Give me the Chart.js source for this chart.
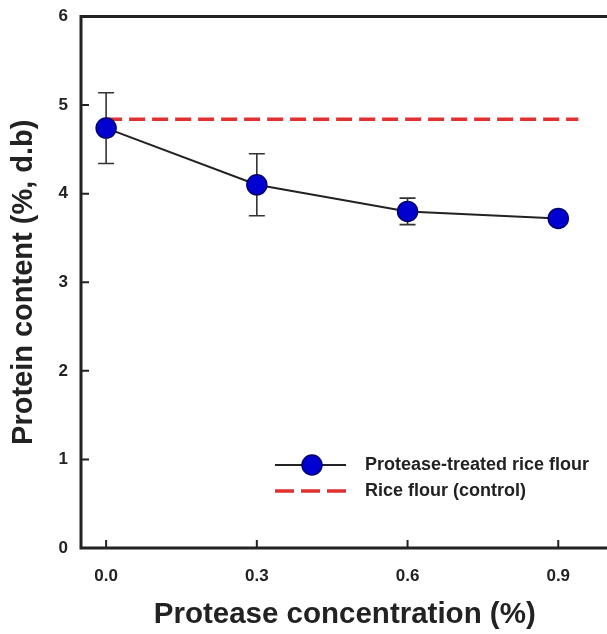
<!DOCTYPE html>
<html><head><meta charset="utf-8">
<script src="https://cdn.jsdelivr.net/npm/chart.js@4.4.0/dist/chart.umd.min.js"></script>
<style>
html,body{margin:0;padding:0;background:#fff;overflow:hidden;}
#wrap{width:607px;height:634px;overflow:hidden;position:relative;}
#c{position:absolute;left:0;top:0;}
</style></head>
<body><div id="wrap"><canvas id="c" width="620" height="634"></canvas></div>
<script>
const concentrations = [0, 0.3, 0.6, 0.9];
const proteinContent = [4.74, 4.10, 3.80, 3.72];
const proteinError = [0.40, 0.35, 0.15, 0.02];
const controlX = [0, 0.94];
const controlValue = [4.84, 4.84];
const xTicks = [0, 0.3, 0.6, 0.9];
const yTicks = [0, 1, 2, 3, 4, 5, 6];
const seriesLabels = ['Protease-treated rice flour', 'Rice flour (control)'];

const FONT = 'Liberation Sans, Arial, sans-serif';
const AX = '#222';

const extras = {
  id: 'extras',
  beforeDatasetsDraw(chart) {
    const ctx = chart.ctx, xs = chart.scales.x, ys = chart.scales.y;
    ctx.save();
    ctx.strokeStyle = '#333'; ctx.lineWidth = 1.6;
    concentrations.forEach((c, i) => {
      const px = xs.getPixelForValue(c);
      const top = ys.getPixelForValue(proteinContent[i] + proteinError[i]);
      const bot = ys.getPixelForValue(proteinContent[i] - proteinError[i]);
      ctx.beginPath();
      ctx.moveTo(px, top); ctx.lineTo(px, bot);
      ctx.moveTo(px - 8, top); ctx.lineTo(px + 8, top);
      ctx.moveTo(px - 8, bot); ctx.lineTo(px + 8, bot);
      ctx.stroke();
    });
    ctx.restore();
  },
  afterDraw(chart) {
    const ctx = chart.ctx, xs = chart.scales.x, ys = chart.scales.y, ca = chart.chartArea;
    ctx.save();
    ctx.strokeStyle = AX; ctx.lineWidth = 3; ctx.lineCap = 'square';
    ctx.beginPath();
    ctx.moveTo(ca.left, ca.bottom); ctx.lineTo(ca.left, ca.top); ctx.lineTo(ca.right + 5, ca.top);
    ctx.moveTo(ca.left, ca.bottom); ctx.lineTo(ca.right + 5, ca.bottom);
    ctx.stroke();
    ctx.lineWidth = 2; ctx.lineCap = 'butt';
    ctx.beginPath();
    yTicks.forEach(v => { const py = ys.getPixelForValue(v); ctx.moveTo(ca.left, py); ctx.lineTo(ca.left + 8, py); });
    xTicks.forEach(v => { const px = xs.getPixelForValue(v); ctx.moveTo(px, ca.bottom); ctx.lineTo(px, ca.bottom - 8); });
    ctx.stroke();
    // legend
    const lx0 = 275, lx1 = 346, ly1 = 465, ly2 = 491, tx = 365;
    ctx.strokeStyle = '#222'; ctx.lineWidth = 2;
    ctx.beginPath(); ctx.moveTo(lx0, ly1); ctx.lineTo(lx1, ly1); ctx.stroke();
    ctx.fillStyle = '#0000d0'; ctx.strokeStyle = '#000070'; ctx.lineWidth = 1.5;
    ctx.beginPath(); ctx.arc(312, ly1, 10, 0, Math.PI * 2); ctx.fill(); ctx.stroke();
    ctx.strokeStyle = '#e03030'; ctx.lineWidth = 3.5; ctx.setLineDash([19, 7]);
    ctx.beginPath(); ctx.moveTo(lx0, ly2); ctx.lineTo(lx1, ly2); ctx.stroke();
    ctx.setLineDash([]);
    ctx.fillStyle = '#222'; ctx.font = 'bold 18px ' + FONT; ctx.textBaseline = 'middle'; ctx.textAlign = 'left';
    ctx.fillText(seriesLabels[0], tx, ly1);
    ctx.fillText(seriesLabels[1], tx, ly2);
    ctx.restore();
  }
};

new Chart(document.getElementById('c'), {
  type: 'scatter',
  data: {
    datasets: [
      {
        label: seriesLabels[1],
        data: controlX.map((x, i) => ({x, y: controlValue[i]})),
        showLine: true, borderColor: '#e03030', borderWidth: 3.5, borderDash: [16, 7],
        pointRadius: 0, order: 2
      },
      {
        label: seriesLabels[0],
        data: concentrations.map((x, i) => ({x, y: proteinContent[i]})),
        showLine: true, borderColor: '#222', borderWidth: 2,
        pointRadius: 10, pointBackgroundColor: '#0000d0', pointBorderColor: '#000070', pointBorderWidth: 1.5,
        order: 1
      }
    ]
  },
  options: {
    responsive: false, animation: false,
    layout: {padding: {left: 0, top: 0, right: 8, bottom: 0}},
    plugins: {legend: {display: false}, tooltip: {enabled: false}},
    scales: {
      x: {
        type: 'linear', min: -0.05, max: 1.0,
        afterBuildTicks: s => { s.ticks = xTicks.map(v => ({value: v})); },
        afterFit: s => { s.height = 86; },
        grid: {display: false, drawTicks: false},
        border: {display: false},
        ticks: {padding: 18, color: AX, font: {family: FONT, weight: 'bold', size: 17}, callback: v => Number(v).toFixed(1)},
        title: {display: true, text: 'Protease concentration (%)', color: AX, font: {family: FONT, weight: 'bold', size: 29.5}, padding: {top: 0, bottom: 1}}
      },
      y: {
        min: 0, max: 6,
        afterBuildTicks: s => { s.ticks = yTicks.map(v => ({value: v})); },
        afterFit: s => { s.width = 81; s.paddingTop = 16.5; s.paddingBottom = 0; },
        grid: {display: false, drawTicks: false},
        border: {display: false},
        ticks: {padding: 13, color: AX, font: {family: FONT, weight: 'bold', size: 17}},
        title: {display: true, text: 'Protein content (%, d.b)', color: AX, font: {family: FONT, weight: 'bold', size: 29}, padding: {top: 7, bottom: 8}}
      }
    }
  },
  plugins: [extras]
});
</script></body></html>
